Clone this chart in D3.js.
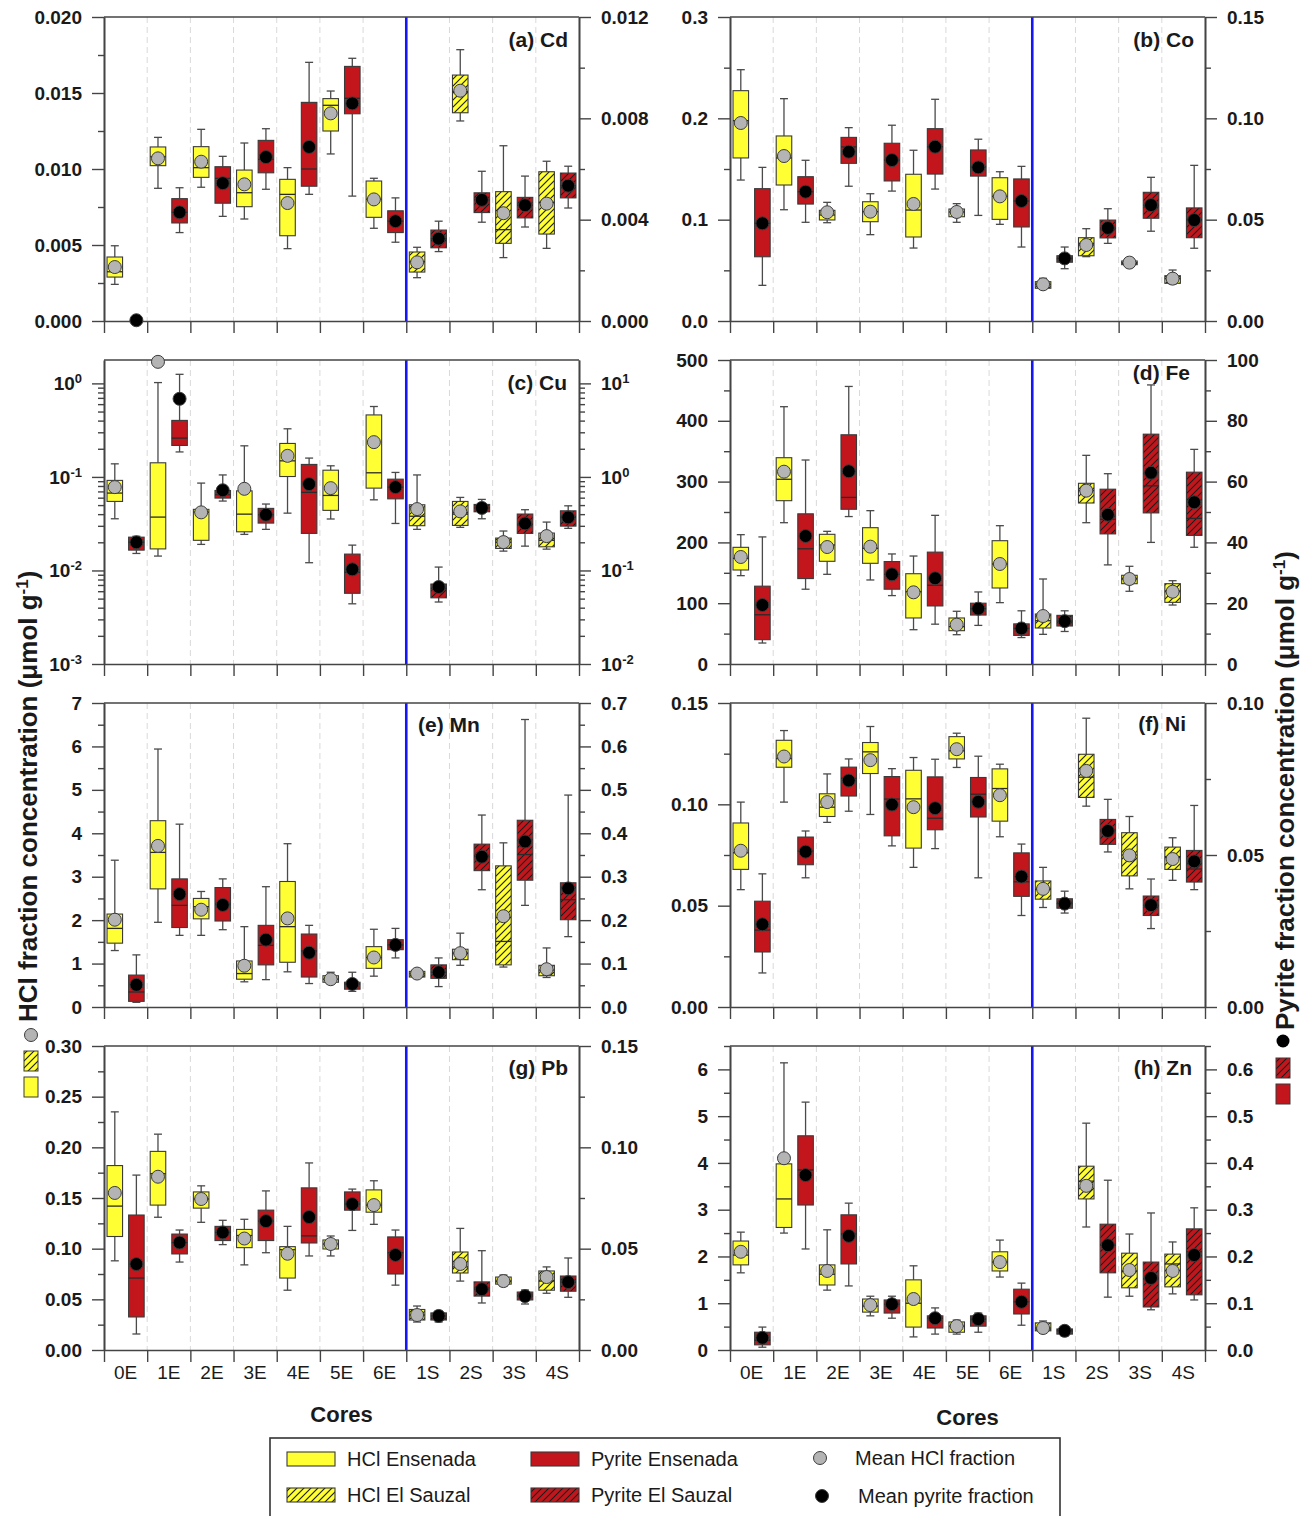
<!DOCTYPE html>
<html>
<head>
<meta charset="utf-8">
<script src="https://cdn.jsdelivr.net/npm/d3@7"></script>
<style>
  body { margin: 0; background: #fff; }
  svg { display: block; font-family: "Liberation Sans", Arial, sans-serif; }
</style>
</head>
<body>
<svg id="fig" width="1305" height="1516"></svg>
<script>
// Sediment cores: Ensenada (E) and El Sauzal (S)
const cores = ["0E", "1E", "2E", "3E", "4E", "5E", "6E", "1S", "2S", "3S", "4S"];
const nEnsenada = 7;

// Each row: [whiskerLow, q1, median, q3, whiskerHigh, mean]  (µmol g-1)
const cdHCl = [
  [0.00241, 0.00289, 0.00324, 0.00421, 0.00495, 0.00355],
  [0.00873, 0.01022, 0.01081, 0.01145, 0.01208, 0.0107],
  [0.0088, 0.00945, 0.01009, 0.01147, 0.01261, 0.01048],
  [0.00671, 0.00752, 0.00844, 0.00993, 0.01171, 0.00899],
  [0.00476, 0.00561, 0.00833, 0.00932, 0.01009, 0.00776],
  [0.01099, 0.0125, 0.01419, 0.01463, 0.01513, 0.01366],
  [0.0061, 0.00682, 0.00801, 0.00921, 0.00939, 0.008],
  [0.00285, 0.00322, 0.0039, 0.00454, 0.00485, 0.00386],
  [0.01316, 0.0137, 0.0151, 0.01618, 0.01785, 0.01515],
  [0.00417, 0.00511, 0.00601, 0.00851, 0.01153, 0.00709],
  [0.00478, 0.00572, 0.0078, 0.00982, 0.01051, 0.00772]
];
const cdPyr = [
  [null, null, null, null, null, 0.00003],
  [0.00349, 0.00387, 0.00429, 0.00483, 0.00526, 0.00429],
  [0.00413, 0.00465, 0.00563, 0.00609, 0.0065, 0.00544],
  [0.0052, 0.00585, 0.00638, 0.00713, 0.00759, 0.00647],
  [0.005, 0.00532, 0.006, 0.00863, 0.01021, 0.00687],
  [0.00493, 0.00818, 0.00879, 0.01005, 0.01037, 0.00859],
  [0.00311, 0.00349, 0.00394, 0.00435, 0.00486, 0.00394],
  [0.00274, 0.00289, 0.00325, 0.00359, 0.00394, 0.00325],
  [0.0039, 0.00428, 0.00478, 0.00506, 0.00591, 0.00478],
  [0.00371, 0.00407, 0.00457, 0.00488, 0.00572, 0.00457],
  [0.00446, 0.00486, 0.00534, 0.00584, 0.00611, 0.00534]
];

const coHCl = [
  [0.1391, 0.1609, 0.1977, 0.2273, 0.248, 0.1954],
  [0.1098, 0.1342, 0.1609, 0.1826, 0.2194, 0.1628],
  [0.097, 0.0997, 0.1046, 0.1092, 0.1171, 0.1073],
  [0.0852, 0.098, 0.1079, 0.1177, 0.1256, 0.1079],
  [0.072, 0.0829, 0.1095, 0.1448, 0.1685, 0.1155],
  [0.0974, 0.1029, 0.1076, 0.1105, 0.1158, 0.1076],
  [0.0954, 0.1003, 0.123, 0.1414, 0.1473, 0.123],
  [0.0313, 0.0323, 0.0362, 0.0388, 0.0421, 0.0362],
  [0.0635, 0.0644, 0.075, 0.0822, 0.0911, 0.075],
  [0.055, 0.0556, 0.0576, 0.0592, 0.0598, 0.0576],
  [0.0365, 0.0372, 0.0418, 0.0447, 0.0503, 0.0418]
];
const coPyr = [
  [0.0176, 0.0317, 0.0482, 0.0653, 0.0758, 0.0482],
  [0.0487, 0.0577, 0.0638, 0.0712, 0.0793, 0.0638],
  [0.0665, 0.0778, 0.0859, 0.0906, 0.0954, 0.0835],
  [0.0641, 0.0691, 0.0794, 0.0877, 0.0966, 0.0794],
  [0.0651, 0.0725, 0.086, 0.0949, 0.1094, 0.086],
  [0.0521, 0.0715, 0.076, 0.0844, 0.0897, 0.0758],
  [0.0365, 0.0464, 0.0592, 0.0701, 0.0763, 0.0592],
  [0.0258, 0.029, 0.0309, 0.0322, 0.0365, 0.0309],
  [0.0383, 0.041, 0.0459, 0.0498, 0.0554, 0.0459],
  [0.0443, 0.0507, 0.0572, 0.0635, 0.0709, 0.0572],
  [0.0359, 0.0411, 0.0498, 0.0558, 0.0768, 0.0498]
];

const cuHCl = [
  [0.0357, 0.0547, 0.0672, 0.0918, 0.138, 0.0778],
  [0.01425, 0.017, 0.0372, 0.1416, 1.02, 1.70],
  [0.019, 0.021, 0.042, 0.045, 0.0859, 0.0418],
  [0.0243, 0.0259, 0.040, 0.071, 0.215, 0.0746],
  [0.041, 0.101, 0.1486, 0.228, 0.327, 0.168],
  [0.0355, 0.0439, 0.0634, 0.118, 0.1315, 0.0759],
  [0.0569, 0.0759, 0.1107, 0.46, 0.566, 0.2355],
  [0.0275, 0.0301, 0.038, 0.0504, 0.105, 0.0453],
  [0.0289, 0.0303, 0.040, 0.0547, 0.0604, 0.0428],
  [0.0161, 0.0172, 0.0200, 0.0222, 0.0264, 0.0201],
  [0.0169, 0.0179, 0.021, 0.0251, 0.0329, 0.0233]
];
const cuPyr = [
  [0.152, 0.165, 0.2, 0.227, 0.232, 0.2],
  [1.85, 2.17, 2.6, 4.02, 12.5, 6.84],
  [0.552, 0.594, 0.645, 0.716, 1.05, 0.72],
  [0.275, 0.321, 0.394, 0.461, 0.513, 0.394],
  [0.121, 0.249, 0.684, 1.36, 1.59, 0.838],
  [0.044, 0.057, 0.0955, 0.1496, 0.1866, 0.1028],
  [0.318, 0.583, 0.778, 0.946, 1.117, 0.778],
  [0.046, 0.051, 0.0644, 0.0716, 0.1087, 0.0665],
  [0.357, 0.424, 0.466, 0.508, 0.575, 0.466],
  [0.182, 0.249, 0.313, 0.401, 0.446, 0.318],
  [0.282, 0.298, 0.369, 0.434, 0.491, 0.369]
];

const feHCl = [
  [145.3, 154.6, 173.8, 191.9, 212.7, 176],
  [232.4, 268.6, 303.8, 339.3, 423.2, 316.3],
  [147.5, 168.9, 195.7, 213.3, 218.2, 192.4],
  [138.2, 165.6, 190.3, 224.2, 252.2, 193],
  [56.4, 75.7, 118.9, 148.5, 177.6, 117.9],
  [48.2, 54.8, 61.4, 75.7, 86.7, 64.7],
  [100.9, 125, 164.5, 202.8, 227.5, 164.5],
  [48.8, 59.2, 71.2, 82.2, 139.8, 78.9],
  [232.4, 264.8, 285.1, 297.2, 343.2, 285.1],
  [119.6, 132.1, 139.8, 145.9, 160.7, 139.8],
  [97, 101.4, 120, 132.1, 137, 118.9]
];
const fePyr = [
  [6.9, 8.0, 16.2, 25.6, 41.8, 19.4],
  [24.6, 28.1, 37.9, 49.4, 67.1, 42.1],
  [48.5, 50.9, 54.8, 75.4, 91.3, 63.4],
  [22.5, 24.6, 29.5, 33.7, 36.2, 29.5],
  [13.1, 19.1, 25.9, 36.8, 48.9, 28.2],
  [12.7, 16.1, 18.2, 20.0, 23.7, 18.2],
  [8.7, 9.4, 11.7, 13.2, 17.5, 11.7],
  [10.7, 12.5, 14.1, 16.0, 17.5, 14.1],
  [32.6, 42.8, 47.6, 57.5, 62.6, 49.1],
  [40.0, 49.7, 58.6, 75.6, 91.8, 62.9],
  [38.4, 42.3, 47.9, 63.1, 70.6, 53.2]
];

const mnHCl = [
  [1.30, 1.47, 1.81, 2.14, 3.38, 2.01],
  [1.95, 2.72, 3.56, 4.29, 5.94, 3.71],
  [1.65, 2.03, 2.31, 2.50, 2.66, 2.24],
  [0.58, 0.64, 0.77, 1.06, 1.85, 0.95],
  [0.81, 1.03, 1.85, 2.89, 3.76, 2.04],
  [0.54, 0.57, 0.64, 0.72, 0.80, 0.64],
  [0.71, 0.89, 1.14, 1.39, 1.79, 1.14],
  [0.67, 0.69, 0.77, 0.82, 0.84, 0.77],
  [0.96, 1.09, 1.24, 1.33, 1.70, 1.24],
  [0.92, 0.97, 1.51, 3.25, 3.78, 2.09],
  [0.68, 0.72, 0.85, 0.96, 1.36, 0.87]
];
const mnPyr = [
  [0.0107, 0.013, 0.0345, 0.0735, 0.120, 0.051],
  [0.165, 0.183, 0.234, 0.295, 0.421, 0.26],
  [0.178, 0.198, 0.237, 0.275, 0.295, 0.235],
  [0.063, 0.097, 0.142, 0.188, 0.277, 0.155],
  [0.054, 0.069, 0.129, 0.168, 0.188, 0.125],
  [0.036, 0.041, 0.053, 0.057, 0.080, 0.053],
  [0.113, 0.132, 0.143, 0.155, 0.181, 0.143],
  [0.047, 0.066, 0.080, 0.097, 0.113, 0.080],
  [0.270, 0.314, 0.346, 0.375, 0.442, 0.346],
  [0.234, 0.292, 0.351, 0.430, 0.662, 0.381],
  [0.162, 0.201, 0.247, 0.286, 0.488, 0.273]
];

const niHCl = [
  [0.0579, 0.0679, 0.0761, 0.0908, 0.1011, 0.0771],
  [0.1011, 0.1183, 0.1226, 0.1316, 0.1364, 0.1236],
  [0.0911, 0.0940, 0.0986, 0.1052, 0.1150, 0.1011],
  [0.0950, 0.1152, 0.1259, 0.1305, 0.1384, 0.1218],
  [0.0689, 0.0784, 0.1027, 0.1168, 0.1231, 0.0986],
  [0.1182, 0.1224, 0.1264, 0.1334, 0.1351, 0.1272],
  [0.0840, 0.0917, 0.1078, 0.1175, 0.1198, 0.1045],
  [0.0491, 0.0532, 0.0580, 0.0622, 0.0689, 0.0583],
  [0.0991, 0.1034, 0.1134, 0.1247, 0.1425, 0.1165],
  [0.0583, 0.0647, 0.0750, 0.0860, 0.0940, 0.0748],
  [0.0625, 0.0679, 0.0742, 0.0789, 0.0835, 0.0730]
];
const niPyr = [
  [0.0112, 0.0181, 0.0253, 0.0348, 0.0438, 0.0272],
  [0.0425, 0.0468, 0.0513, 0.0559, 0.0579, 0.0511],
  [0.0644, 0.0694, 0.0752, 0.0789, 0.0816, 0.0745],
  [0.0530, 0.0563, 0.0684, 0.0758, 0.0784, 0.0666],
  [0.0521, 0.0583, 0.0621, 0.0757, 0.0815, 0.0654],
  [0.0425, 0.0625, 0.0700, 0.0755, 0.0825, 0.0675],
  [0.0301, 0.0364, 0.0412, 0.0507, 0.0536, 0.0429],
  [0.0309, 0.0325, 0.0340, 0.0356, 0.0381, 0.0340],
  [0.0510, 0.0535, 0.0582, 0.0617, 0.0683, 0.0579],
  [0.0258, 0.0301, 0.0335, 0.0365, 0.0421, 0.0335],
  [0.0386, 0.0411, 0.0454, 0.0515, 0.0663, 0.0479]
];

const pbHCl = [
  [0.088, 0.112, 0.142, 0.182, 0.235, 0.155],
  [0.131, 0.143, 0.174, 0.196, 0.213, 0.171],
  [0.126, 0.140, 0.149, 0.156, 0.162, 0.149],
  [0.084, 0.101, 0.113, 0.119, 0.129, 0.110],
  [0.059, 0.071, 0.099, 0.102, 0.122, 0.095],
  [0.0928, 0.0997, 0.1046, 0.1086, 0.1125, 0.1046],
  [0.124, 0.136, 0.143, 0.158, 0.167, 0.143],
  [0.0276, 0.0296, 0.0345, 0.040, 0.0434, 0.0345],
  [0.068, 0.076, 0.082, 0.0967, 0.120, 0.0849],
  [0.063, 0.065, 0.068, 0.072, 0.074, 0.068],
  [0.056, 0.059, 0.068, 0.078, 0.082, 0.072]
];
const pbPyr = [
  [0.0079, 0.0163, 0.0355, 0.0666, 0.0863, 0.0424],
  [0.0434, 0.0474, 0.053, 0.0572, 0.0592, 0.053],
  [0.052, 0.054, 0.058, 0.061, 0.064, 0.058],
  [0.048, 0.054, 0.0636, 0.069, 0.0785, 0.0636],
  [0.0464, 0.0528, 0.0563, 0.080, 0.0923, 0.0656],
  [0.059, 0.069, 0.072, 0.078, 0.0794, 0.072],
  [0.032, 0.0375, 0.048, 0.0558, 0.0592, 0.0469],
  [0.0138, 0.0148, 0.0168, 0.0183, 0.0192, 0.0168],
  [0.0232, 0.0266, 0.0306, 0.0336, 0.049, 0.030],
  [0.0227, 0.0247, 0.0266, 0.0286, 0.0296, 0.0266],
  [0.026, 0.029, 0.0335, 0.0365, 0.0454, 0.0335]
];

const znHCl = [
  [1.65, 1.82, 2.03, 2.33, 2.52, 2.10],
  [2.50, 2.62, 3.23, 3.98, 6.14, 4.10],
  [1.28, 1.39, 1.62, 1.82, 2.57, 1.69],
  [0.73, 0.81, 0.94, 1.09, 1.15, 0.96],
  [0.28, 0.49, 1.0, 1.50, 1.80, 1.09],
  [0.34, 0.38, 0.51, 0.60, 0.64, 0.51],
  [1.56, 1.69, 1.88, 2.10, 2.35, 1.88],
  [0.36, 0.41, 0.47, 0.58, 0.62, 0.47],
  [2.63, 3.23, 3.61, 3.93, 4.85, 3.51],
  [1.15, 1.33, 1.69, 2.07, 2.48, 1.71],
  [1.20, 1.35, 1.84, 2.05, 2.31, 1.69]
];
const znPyr = [
  [0.006, 0.011, 0.021, 0.038, 0.049, 0.026],
  [0.216, 0.310, 0.385, 0.458, 0.530, 0.374],
  [0.137, 0.184, 0.248, 0.289, 0.314, 0.244],
  [0.068, 0.079, 0.098, 0.107, 0.115, 0.098],
  [0.034, 0.047, 0.068, 0.073, 0.090, 0.068],
  [0.038, 0.051, 0.066, 0.073, 0.079, 0.066],
  [0.053, 0.077, 0.103, 0.130, 0.143, 0.103],
  [0.030, 0.034, 0.041, 0.045, 0.049, 0.041],
  [0.113, 0.165, 0.224, 0.269, 0.363, 0.224],
  [0.086, 0.092, 0.152, 0.188, 0.293, 0.154],
  [0.107, 0.118, 0.21, 0.259, 0.304, 0.203]
];

// ---- layout and style ----
const colX = [104, 730], rowY = [17, 360, 703, 1046];
const PW = 475, PH = 304;
const YELLOW = "#ffff33", RED = "#c3161c", GREY = "#b4b4b4";
const AXIS = "#444", TXT = "#1a1a1a";

const panels = [
  { name: "(a) Cd", hcl: cdHCl, pyr: cdPyr, col: 0, row: 0,
    left: { domain: [0, 0.02], major: 0.005, minor: 0.0025, fmt: ".3f" },
    right: { domain: [0, 0.012], major: 0.004, minor: 0.002, fmt: ".3f" },
    lab: { anchor: "end", x: -11, y: 30 } },
  { name: "(b) Co", hcl: coHCl, pyr: coPyr, col: 1, row: 0,
    left: { domain: [0, 0.3], major: 0.1, minor: 0.05, fmt: ".1f" },
    right: { domain: [0, 0.15], major: 0.05, minor: 0.025, fmt: ".2f" },
    lab: { anchor: "end", x: -11, y: 30 } },
  { name: "(c) Cu", hcl: cuHCl, pyr: cuPyr, col: 0, row: 1,
    left: { log: true, domain: [1e-3, Math.pow(10, 0.25)], decades: [-3, -2, -1, 0] },
    right: { log: true, domain: [1e-2, Math.pow(10, 1.25)], decades: [-2, -1, 0, 1] },
    lab: { anchor: "end", x: -12, y: 30 } },
  { name: "(d) Fe", hcl: feHCl, pyr: fePyr, col: 1, row: 1,
    left: { domain: [0, 500], major: 100, minor: 50, fmt: "d" },
    right: { domain: [0, 100], major: 20, minor: 10, fmt: "d" },
    lab: { anchor: "end", x: -15, y: 20 } },
  { name: "(e) Mn", hcl: mnHCl, pyr: mnPyr, col: 0, row: 2,
    left: { domain: [0, 7], major: 1, minor: 0.5, fmt: "d" },
    right: { domain: [0, 0.7], major: 0.1, minor: 0.05, fmt: ".1f" },
    lab: { anchor: "start", x: 314, y: 29 } },
  { name: "(f) Ni", hcl: niHCl, pyr: niPyr, col: 1, row: 2,
    left: { domain: [0, 0.15], major: 0.05, minor: 0.025, fmt: ".2f" },
    right: { domain: [0, 0.10], major: 0.05, minor: 0.025, fmt: ".2f" },
    lab: { anchor: "end", x: -19, y: 28 } },
  { name: "(g) Pb", hcl: pbHCl, pyr: pbPyr, col: 0, row: 3,
    left: { domain: [0, 0.3], major: 0.05, minor: 0.025, fmt: ".2f" },
    right: { domain: [0, 0.15], major: 0.05, minor: 0.025, fmt: ".2f" },
    lab: { anchor: "end", x: -11, y: 29 } },
  { name: "(h) Zn", hcl: znHCl, pyr: znPyr, col: 1, row: 3,
    left: { domain: [0, 6.5], major: 1, minor: 0.5, fmt: "d" },
    right: { domain: [0, 0.65], major: 0.1, minor: 0.05, fmt: ".1f" },
    lab: { anchor: "end", x: -13, y: 29 } }
];

const svg = d3.select("#fig");
const defs = svg.append("defs");
defs.append("pattern").attr("id", "hatch")
  .attr("patternUnits", "userSpaceOnUse").attr("width", 7).attr("height", 7)
  .append("path").attr("d", "M-1,1 l2,-2 M0,7 l7,-7 M6,8 l2,-2")
  .attr("stroke", "#1a1a1a").attr("stroke-width", 1.1).attr("fill", "none");

// evenly spaced tick values that stay inside the domain
function steps(lo, hi, step) {
  const n = Math.floor((hi - lo) / step + 1e-6);
  return d3.range(n + 1).map(i => +(lo + i * step).toFixed(10));
}

function styleAxis(sel) {
  sel.select(".domain").attr("stroke", AXIS).attr("stroke-width", 1.6);
  sel.selectAll(".tick line").attr("stroke", AXIS).attr("stroke-width", 1.4);
  sel.selectAll(".tick text").attr("fill", TXT).attr("font-size", 19).attr("font-weight", "bold")
    .attr("font-family", "'Liberation Sans', Arial, sans-serif");
}

function makeY(spec, y0, y1) {
  return spec.log
    ? d3.scaleLog().domain(spec.domain).range([y1, y0])
    : d3.scaleLinear().domain(spec.domain).range([y1, y0]);
}

function drawYAxis(g, spec, scale, xPos, side) {
  const axisFn = side === "left" ? d3.axisLeft : d3.axisRight;
  let majors, minors;
  if (spec.log) {
    majors = spec.decades.map(e => Math.pow(10, e));
    minors = [];
    spec.decades.forEach(e => {
      for (let k = 2; k <= 9; k++) {
        const v = k * Math.pow(10, e);
        if (v <= spec.domain[1]) minors.push(v);
      }
    });
  } else {
    majors = steps(spec.domain[0], spec.domain[1], spec.major);
    minors = steps(spec.domain[0], spec.domain[1], spec.minor).filter(v => !majors.some(m => Math.abs(m - v) < 1e-9));
  }
  g.append("g").attr("transform", `translate(${xPos},0)`)
    .call(axisFn(scale).tickValues(minors).tickSize(6).tickSizeOuter(0).tickFormat(""))
    .call(styleAxis);
  const ax = g.append("g").attr("transform", `translate(${xPos},0)`)
    .call(axisFn(scale).tickValues(majors).tickSize(12).tickSizeOuter(0).tickPadding(10)
      .tickFormat(spec.log ? () => "" : d3.format(spec.fmt)))
    .call(styleAxis);
  if (spec.log) {
    ax.selectAll(".tick text").each(function (d) {
      const t = d3.select(this);
      const e = Math.round(Math.log10(d));
      t.text(null);
      t.append("tspan").text("10");
      t.append("tspan").attr("baseline-shift", "super").attr("font-size", 13).text(String(e));
    });
  }
}

panels.forEach(p => {
  const x0 = colX[p.col], x1 = x0 + PW, y0 = rowY[p.row], y1 = y0 + PH;
  const g = svg.append("g");
  const x = d3.scaleBand().domain(cores).range([x0, x1]).paddingInner(0).paddingOuter(0);
  const bound = d3.scaleLinear().domain([0, cores.length]).range([x0, x1]);
  const yl = makeY(p.left, y0, y1), yr = makeY(p.right, y0, y1);

  // dashed separators between cores
  g.append("g").selectAll("line").data(d3.range(1, cores.length).filter(k => k !== nEnsenada))
    .join("line")
    .attr("x1", k => bound(k)).attr("x2", k => bound(k))
    .attr("y1", y0).attr("y2", y1)
    .attr("stroke", "#d9d9d9").attr("stroke-width", 1).attr("stroke-dasharray", "6,4");

  // boundary between Ensenada and El Sauzal
  g.append("line").attr("x1", bound(nEnsenada)).attr("x2", bound(nEnsenada))
    .attr("y1", y0).attr("y2", y1).attr("stroke", "#1414ff").attr("stroke-width", 2.6);

  const bw = x.bandwidth() * 0.36, cap = 8;
  function boxes(rows, yScale, frac, fill) {
    rows.forEach((r, i) => {
      const [lo, q1, md, q3, hi] = r;
      if (q1 == null) return;
      const cx = x(cores[i]) + x.bandwidth() * frac;
      const b = g.append("g");
      b.append("line").attr("x1", cx).attr("x2", cx).attr("y1", yScale(hi)).attr("y2", yScale(q3));
      b.append("line").attr("x1", cx).attr("x2", cx).attr("y1", yScale(q1)).attr("y2", yScale(lo));
      b.append("line").attr("x1", cx - cap / 2).attr("x2", cx + cap / 2).attr("y1", yScale(hi)).attr("y2", yScale(hi));
      b.append("line").attr("x1", cx - cap / 2).attr("x2", cx + cap / 2).attr("y1", yScale(lo)).attr("y2", yScale(lo));
      b.selectAll("line").attr("stroke", "#4a4a4a").attr("stroke-width", 1.3);
      const top = yScale(q3), h = Math.max(yScale(q1) - yScale(q3), 1.5);
      b.append("rect").attr("x", cx - bw / 2).attr("y", top).attr("width", bw).attr("height", h).attr("fill", fill);
      if (i >= nEnsenada) {
        b.append("rect").attr("x", cx - bw / 2).attr("y", top).attr("width", bw).attr("height", h).attr("fill", "url(#hatch)");
      }
      b.append("rect").attr("x", cx - bw / 2).attr("y", top).attr("width", bw).attr("height", h)
        .attr("fill", "none").attr("stroke", "#3a3a3a").attr("stroke-width", 1.1);
      b.append("line").attr("x1", cx - bw / 2).attr("x2", cx + bw / 2).attr("y1", yScale(md)).attr("y2", yScale(md))
        .attr("stroke", "#2a2a2a").attr("stroke-width", 1.3);
    });
  }
  boxes(p.hcl, yl, 0.25, YELLOW);
  boxes(p.pyr, yr, 0.75, RED);

  // frame, axes
  g.append("line").attr("x1", x0).attr("x2", x1).attr("y1", y0).attr("y2", y0).attr("stroke", AXIS).attr("stroke-width", 1.6);
  g.append("g").attr("transform", `translate(0,${y1})`)
    .call(d3.axisBottom(bound).tickValues(d3.range(cores.length + 1)).tickSize(12).tickSizeOuter(0).tickFormat(""))
    .call(styleAxis);
  drawYAxis(g, p.left, yl, x0, "left");
  drawYAxis(g, p.right, yr, x1, "right");

  if (p.row === 3) {
    g.append("g").selectAll("text").data(cores).join("text")
      .attr("x", d => x(d) + x.bandwidth() / 2).attr("y", y1 + 29)
      .attr("text-anchor", "middle").attr("font-size", 19).attr("fill", TXT).text(d => d);
    g.append("text").attr("x", (x0 + x1) / 2).attr("y", y1 + 72 + p.col * 3)
      .attr("text-anchor", "middle").attr("font-size", 22).attr("font-weight", "bold").attr("fill", TXT).text("Cores");
  }

  // means
  function means(rows, yScale, frac, fill) {
    g.append("g").selectAll("circle").data(rows.map((r, i) => ({ v: r[5], i })))
      .join("circle")
      .attr("cx", d => x(cores[d.i]) + x.bandwidth() * frac)
      .attr("cy", d => yScale(d.v))
      .attr("r", 6.5).attr("fill", fill).attr("stroke", "#3c3c3c").attr("stroke-width", 1);
  }
  means(p.hcl, yl, 0.25, GREY);
  means(p.pyr, yr, 0.75, "#000");

  g.append("text")
    .attr("x", p.lab.anchor === "end" ? x1 + p.lab.x : x0 + p.lab.x)
    .attr("y", y0 + p.lab.y)
    .attr("text-anchor", p.lab.anchor)
    .attr("font-size", 21).attr("font-weight", "bold").attr("fill", TXT).text(p.name);
});

// ---- axis titles with series symbols ----
function axisTitle(xb, yStart, label) {
  const t = svg.append("text")
    .attr("transform", `translate(${xb},${yStart}) rotate(-90)`)
    .attr("font-size", 26).attr("font-weight", "bold").attr("fill", TXT);
  t.append("tspan").text(label + " (μmol g");
  t.append("tspan").attr("baseline-shift", "super").attr("font-size", 17).text("-1");
  t.append("tspan").text(")");
}
axisTitle(37, 1022, "HCl fraction concentration");
axisTitle(1294, 1030, "Pyrite fraction concentration");

svg.append("circle").attr("cx", 31).attr("cy", 1035).attr("r", 6.5).attr("fill", GREY).attr("stroke", "#3c3c3c");
[[24, 1051, true], [24, 1077, false]].forEach(([sx, sy, h]) => {
  svg.append("rect").attr("x", sx).attr("y", sy).attr("width", 14).attr("height", 20).attr("fill", YELLOW);
  if (h) svg.append("rect").attr("x", sx).attr("y", sy).attr("width", 14).attr("height", 20).attr("fill", "url(#hatch)");
  svg.append("rect").attr("x", sx).attr("y", sy).attr("width", 14).attr("height", 20).attr("fill", "none").attr("stroke", "#3a3a3a");
});
svg.append("circle").attr("cx", 1283).attr("cy", 1041).attr("r", 6.5).attr("fill", "#000");
[[1276, 1058, true], [1276, 1084, false]].forEach(([sx, sy, h]) => {
  svg.append("rect").attr("x", sx).attr("y", sy).attr("width", 14).attr("height", 20).attr("fill", RED);
  if (h) svg.append("rect").attr("x", sx).attr("y", sy).attr("width", 14).attr("height", 20).attr("fill", "url(#hatch)");
  svg.append("rect").attr("x", sx).attr("y", sy).attr("width", 14).attr("height", 20).attr("fill", "none").attr("stroke", "#3a3a3a");
});

// ---- legend ----
const legend = svg.append("g");
legend.append("rect").attr("x", 270).attr("y", 1438).attr("width", 790).attr("height", 100)
  .attr("fill", "#fff").attr("stroke", "#333").attr("stroke-width", 1.6);
const legendItems = [
  { kind: "box", fill: YELLOW, hatch: false, x: 287, y: 1452, label: "HCl Ensenada", tx: 347 },
  { kind: "box", fill: RED, hatch: false, x: 531, y: 1452, label: "Pyrite Ensenada", tx: 591 },
  { kind: "dot", fill: GREY, x: 820, y: 1458, label: "Mean HCl fraction", tx: 855 },
  { kind: "box", fill: YELLOW, hatch: true, x: 287, y: 1488, label: "HCl El Sauzal", tx: 347 },
  { kind: "box", fill: RED, hatch: true, x: 531, y: 1488, label: "Pyrite El Sauzal", tx: 591 },
  { kind: "dot", fill: "#000", x: 822, y: 1496, label: "Mean pyrite fraction", tx: 858 }
];
legendItems.forEach(it => {
  if (it.kind === "box") {
    legend.append("rect").attr("x", it.x).attr("y", it.y).attr("width", 48).attr("height", 14).attr("fill", it.fill);
    if (it.hatch) legend.append("rect").attr("x", it.x).attr("y", it.y).attr("width", 48).attr("height", 14).attr("fill", "url(#hatch)");
    legend.append("rect").attr("x", it.x).attr("y", it.y).attr("width", 48).attr("height", 14)
      .attr("fill", "none").attr("stroke", "#3a3a3a").attr("stroke-width", 1.1);
  } else {
    legend.append("circle").attr("cx", it.x).attr("cy", it.y).attr("r", 6.5).attr("fill", it.fill).attr("stroke", "#3c3c3c");
  }
  legend.append("text").attr("x", it.tx).attr("y", (it.kind === "box" ? it.y + 7 : it.y) + 7)
    .attr("font-size", 20).attr("fill", TXT).text(it.label);
});
</script>
</body>
</html>
